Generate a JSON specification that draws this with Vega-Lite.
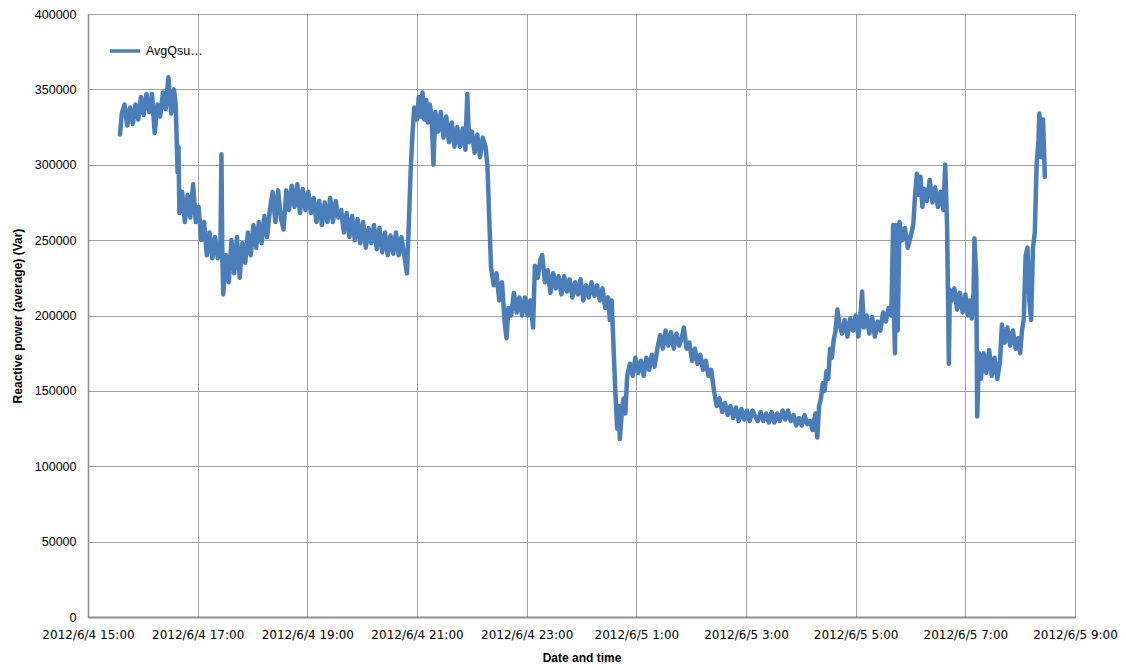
{
  "$schema": "https://vega.github.io/schema/vega-lite/v6.json",
  "width": 987,
  "height": 603,
  "autosize": {"type": "none"},
  "padding": {"left": 88, "top": 14, "right": 51, "bottom": 53},
  "background": "white",
  "config": {
    "view": {"stroke": "#9e9e9e", "strokeWidth": 1},
    "font": "Liberation Sans"
  },
  "data": {
    "values": [
      {"t":"2012-06-04T15:35","v":320000,"s":"AvgQsum"},
      {"t":"2012-06-04T15:37","v":334000,"s":"AvgQsum"},
      {"t":"2012-06-04T15:40","v":340000,"s":"AvgQsum"},
      {"t":"2012-06-04T15:43","v":326000,"s":"AvgQsum"},
      {"t":"2012-06-04T15:46","v":338000,"s":"AvgQsum"},
      {"t":"2012-06-04T15:49","v":327000,"s":"AvgQsum"},
      {"t":"2012-06-04T15:52","v":340000,"s":"AvgQsum"},
      {"t":"2012-06-04T15:55","v":330000,"s":"AvgQsum"},
      {"t":"2012-06-04T15:58","v":345000,"s":"AvgQsum"},
      {"t":"2012-06-04T16:01","v":333000,"s":"AvgQsum"},
      {"t":"2012-06-04T16:04","v":347000,"s":"AvgQsum"},
      {"t":"2012-06-04T16:07","v":335000,"s":"AvgQsum"},
      {"t":"2012-06-04T16:10","v":347000,"s":"AvgQsum"},
      {"t":"2012-06-04T16:13","v":321000,"s":"AvgQsum"},
      {"t":"2012-06-04T16:16","v":340000,"s":"AvgQsum"},
      {"t":"2012-06-04T16:19","v":332000,"s":"AvgQsum"},
      {"t":"2012-06-04T16:22","v":348000,"s":"AvgQsum"},
      {"t":"2012-06-04T16:25","v":337000,"s":"AvgQsum"},
      {"t":"2012-06-04T16:28","v":358000,"s":"AvgQsum"},
      {"t":"2012-06-04T16:31","v":334000,"s":"AvgQsum"},
      {"t":"2012-06-04T16:34","v":350000,"s":"AvgQsum"},
      {"t":"2012-06-04T16:36","v":340000,"s":"AvgQsum"},
      {"t":"2012-06-04T16:38","v":295000,"s":"AvgQsum"},
      {"t":"2012-06-04T16:39","v":312000,"s":"AvgQsum"},
      {"t":"2012-06-04T16:40","v":268000,"s":"AvgQsum"},
      {"t":"2012-06-04T16:43","v":282000,"s":"AvgQsum"},
      {"t":"2012-06-04T16:46","v":262000,"s":"AvgQsum"},
      {"t":"2012-06-04T16:49","v":280000,"s":"AvgQsum"},
      {"t":"2012-06-04T16:52","v":265000,"s":"AvgQsum"},
      {"t":"2012-06-04T16:55","v":287000,"s":"AvgQsum"},
      {"t":"2012-06-04T16:58","v":262000,"s":"AvgQsum"},
      {"t":"2012-06-04T17:01","v":272000,"s":"AvgQsum"},
      {"t":"2012-06-04T17:04","v":250000,"s":"AvgQsum"},
      {"t":"2012-06-04T17:07","v":262000,"s":"AvgQsum"},
      {"t":"2012-06-04T17:10","v":240000,"s":"AvgQsum"},
      {"t":"2012-06-04T17:13","v":255000,"s":"AvgQsum"},
      {"t":"2012-06-04T17:16","v":238000,"s":"AvgQsum"},
      {"t":"2012-06-04T17:19","v":252000,"s":"AvgQsum"},
      {"t":"2012-06-04T17:22","v":238000,"s":"AvgQsum"},
      {"t":"2012-06-04T17:25","v":250000,"s":"AvgQsum"},
      {"t":"2012-06-04T17:26","v":307000,"s":"AvgQsum"},
      {"t":"2012-06-04T17:27","v":240000,"s":"AvgQsum"},
      {"t":"2012-06-04T17:28","v":214000,"s":"AvgQsum"},
      {"t":"2012-06-04T17:31","v":240000,"s":"AvgQsum"},
      {"t":"2012-06-04T17:34","v":222000,"s":"AvgQsum"},
      {"t":"2012-06-04T17:37","v":250000,"s":"AvgQsum"},
      {"t":"2012-06-04T17:40","v":228000,"s":"AvgQsum"},
      {"t":"2012-06-04T17:43","v":252000,"s":"AvgQsum"},
      {"t":"2012-06-04T17:46","v":225000,"s":"AvgQsum"},
      {"t":"2012-06-04T17:49","v":248000,"s":"AvgQsum"},
      {"t":"2012-06-04T17:52","v":235000,"s":"AvgQsum"},
      {"t":"2012-06-04T17:55","v":255000,"s":"AvgQsum"},
      {"t":"2012-06-04T17:58","v":240000,"s":"AvgQsum"},
      {"t":"2012-06-04T18:01","v":260000,"s":"AvgQsum"},
      {"t":"2012-06-04T18:04","v":245000,"s":"AvgQsum"},
      {"t":"2012-06-04T18:07","v":262000,"s":"AvgQsum"},
      {"t":"2012-06-04T18:10","v":248000,"s":"AvgQsum"},
      {"t":"2012-06-04T18:13","v":266000,"s":"AvgQsum"},
      {"t":"2012-06-04T18:16","v":252000,"s":"AvgQsum"},
      {"t":"2012-06-04T18:19","v":270000,"s":"AvgQsum"},
      {"t":"2012-06-04T18:22","v":282000,"s":"AvgQsum"},
      {"t":"2012-06-04T18:25","v":262000,"s":"AvgQsum"},
      {"t":"2012-06-04T18:28","v":283000,"s":"AvgQsum"},
      {"t":"2012-06-04T18:31","v":265000,"s":"AvgQsum"},
      {"t":"2012-06-04T18:34","v":257000,"s":"AvgQsum"},
      {"t":"2012-06-04T18:37","v":283000,"s":"AvgQsum"},
      {"t":"2012-06-04T18:40","v":270000,"s":"AvgQsum"},
      {"t":"2012-06-04T18:43","v":286000,"s":"AvgQsum"},
      {"t":"2012-06-04T18:46","v":272000,"s":"AvgQsum"},
      {"t":"2012-06-04T18:49","v":287000,"s":"AvgQsum"},
      {"t":"2012-06-04T18:52","v":268000,"s":"AvgQsum"},
      {"t":"2012-06-04T18:55","v":284000,"s":"AvgQsum"},
      {"t":"2012-06-04T18:58","v":270000,"s":"AvgQsum"},
      {"t":"2012-06-04T19:01","v":282000,"s":"AvgQsum"},
      {"t":"2012-06-04T19:04","v":268000,"s":"AvgQsum"},
      {"t":"2012-06-04T19:07","v":278000,"s":"AvgQsum"},
      {"t":"2012-06-04T19:10","v":262000,"s":"AvgQsum"},
      {"t":"2012-06-04T19:13","v":276000,"s":"AvgQsum"},
      {"t":"2012-06-04T19:16","v":260000,"s":"AvgQsum"},
      {"t":"2012-06-04T19:19","v":275000,"s":"AvgQsum"},
      {"t":"2012-06-04T19:22","v":262000,"s":"AvgQsum"},
      {"t":"2012-06-04T19:25","v":278000,"s":"AvgQsum"},
      {"t":"2012-06-04T19:28","v":262000,"s":"AvgQsum"},
      {"t":"2012-06-04T19:31","v":276000,"s":"AvgQsum"},
      {"t":"2012-06-04T19:34","v":265000,"s":"AvgQsum"},
      {"t":"2012-06-04T19:37","v":270000,"s":"AvgQsum"},
      {"t":"2012-06-04T19:40","v":255000,"s":"AvgQsum"},
      {"t":"2012-06-04T19:43","v":268000,"s":"AvgQsum"},
      {"t":"2012-06-04T19:46","v":252000,"s":"AvgQsum"},
      {"t":"2012-06-04T19:49","v":266000,"s":"AvgQsum"},
      {"t":"2012-06-04T19:52","v":250000,"s":"AvgQsum"},
      {"t":"2012-06-04T19:55","v":264000,"s":"AvgQsum"},
      {"t":"2012-06-04T19:58","v":248000,"s":"AvgQsum"},
      {"t":"2012-06-04T20:01","v":262000,"s":"AvgQsum"},
      {"t":"2012-06-04T20:04","v":245000,"s":"AvgQsum"},
      {"t":"2012-06-04T20:07","v":258000,"s":"AvgQsum"},
      {"t":"2012-06-04T20:10","v":248000,"s":"AvgQsum"},
      {"t":"2012-06-04T20:13","v":260000,"s":"AvgQsum"},
      {"t":"2012-06-04T20:16","v":244000,"s":"AvgQsum"},
      {"t":"2012-06-04T20:19","v":258000,"s":"AvgQsum"},
      {"t":"2012-06-04T20:22","v":242000,"s":"AvgQsum"},
      {"t":"2012-06-04T20:25","v":255000,"s":"AvgQsum"},
      {"t":"2012-06-04T20:28","v":240000,"s":"AvgQsum"},
      {"t":"2012-06-04T20:31","v":253000,"s":"AvgQsum"},
      {"t":"2012-06-04T20:34","v":241000,"s":"AvgQsum"},
      {"t":"2012-06-04T20:37","v":255000,"s":"AvgQsum"},
      {"t":"2012-06-04T20:40","v":240000,"s":"AvgQsum"},
      {"t":"2012-06-04T20:43","v":252000,"s":"AvgQsum"},
      {"t":"2012-06-04T20:46","v":240000,"s":"AvgQsum"},
      {"t":"2012-06-04T20:49","v":228000,"s":"AvgQsum"},
      {"t":"2012-06-04T20:51","v":260000,"s":"AvgQsum"},
      {"t":"2012-06-04T20:53","v":295000,"s":"AvgQsum"},
      {"t":"2012-06-04T20:55","v":320000,"s":"AvgQsum"},
      {"t":"2012-06-04T20:57","v":338000,"s":"AvgQsum"},
      {"t":"2012-06-04T21:00","v":330000,"s":"AvgQsum"},
      {"t":"2012-06-04T21:02","v":345000,"s":"AvgQsum"},
      {"t":"2012-06-04T21:04","v":332000,"s":"AvgQsum"},
      {"t":"2012-06-04T21:06","v":348000,"s":"AvgQsum"},
      {"t":"2012-06-04T21:08","v":330000,"s":"AvgQsum"},
      {"t":"2012-06-04T21:10","v":343000,"s":"AvgQsum"},
      {"t":"2012-06-04T21:12","v":328000,"s":"AvgQsum"},
      {"t":"2012-06-04T21:14","v":340000,"s":"AvgQsum"},
      {"t":"2012-06-04T21:16","v":332000,"s":"AvgQsum"},
      {"t":"2012-06-04T21:18","v":300000,"s":"AvgQsum"},
      {"t":"2012-06-04T21:20","v":335000,"s":"AvgQsum"},
      {"t":"2012-06-04T21:23","v":322000,"s":"AvgQsum"},
      {"t":"2012-06-04T21:26","v":335000,"s":"AvgQsum"},
      {"t":"2012-06-04T21:29","v":318000,"s":"AvgQsum"},
      {"t":"2012-06-04T21:32","v":332000,"s":"AvgQsum"},
      {"t":"2012-06-04T21:35","v":315000,"s":"AvgQsum"},
      {"t":"2012-06-04T21:38","v":328000,"s":"AvgQsum"},
      {"t":"2012-06-04T21:41","v":312000,"s":"AvgQsum"},
      {"t":"2012-06-04T21:44","v":325000,"s":"AvgQsum"},
      {"t":"2012-06-04T21:47","v":312000,"s":"AvgQsum"},
      {"t":"2012-06-04T21:50","v":324000,"s":"AvgQsum"},
      {"t":"2012-06-04T21:53","v":310000,"s":"AvgQsum"},
      {"t":"2012-06-04T21:55","v":347000,"s":"AvgQsum"},
      {"t":"2012-06-04T21:57","v":315000,"s":"AvgQsum"},
      {"t":"2012-06-04T22:00","v":322000,"s":"AvgQsum"},
      {"t":"2012-06-04T22:03","v":308000,"s":"AvgQsum"},
      {"t":"2012-06-04T22:06","v":320000,"s":"AvgQsum"},
      {"t":"2012-06-04T22:09","v":305000,"s":"AvgQsum"},
      {"t":"2012-06-04T22:12","v":318000,"s":"AvgQsum"},
      {"t":"2012-06-04T22:15","v":312000,"s":"AvgQsum"},
      {"t":"2012-06-04T22:17","v":300000,"s":"AvgQsum"},
      {"t":"2012-06-04T22:19","v":265000,"s":"AvgQsum"},
      {"t":"2012-06-04T22:21","v":232000,"s":"AvgQsum"},
      {"t":"2012-06-04T22:24","v":220000,"s":"AvgQsum"},
      {"t":"2012-06-04T22:27","v":228000,"s":"AvgQsum"},
      {"t":"2012-06-04T22:30","v":210000,"s":"AvgQsum"},
      {"t":"2012-06-04T22:33","v":222000,"s":"AvgQsum"},
      {"t":"2012-06-04T22:36","v":195000,"s":"AvgQsum"},
      {"t":"2012-06-04T22:38","v":185000,"s":"AvgQsum"},
      {"t":"2012-06-04T22:40","v":205000,"s":"AvgQsum"},
      {"t":"2012-06-04T22:43","v":200000,"s":"AvgQsum"},
      {"t":"2012-06-04T22:46","v":215000,"s":"AvgQsum"},
      {"t":"2012-06-04T22:49","v":202000,"s":"AvgQsum"},
      {"t":"2012-06-04T22:52","v":212000,"s":"AvgQsum"},
      {"t":"2012-06-04T22:55","v":200000,"s":"AvgQsum"},
      {"t":"2012-06-04T22:58","v":212000,"s":"AvgQsum"},
      {"t":"2012-06-04T23:01","v":200000,"s":"AvgQsum"},
      {"t":"2012-06-04T23:04","v":210000,"s":"AvgQsum"},
      {"t":"2012-06-04T23:07","v":192000,"s":"AvgQsum"},
      {"t":"2012-06-04T23:09","v":233000,"s":"AvgQsum"},
      {"t":"2012-06-04T23:12","v":225000,"s":"AvgQsum"},
      {"t":"2012-06-04T23:15","v":237000,"s":"AvgQsum"},
      {"t":"2012-06-04T23:17","v":240000,"s":"AvgQsum"},
      {"t":"2012-06-04T23:20","v":222000,"s":"AvgQsum"},
      {"t":"2012-06-04T23:23","v":230000,"s":"AvgQsum"},
      {"t":"2012-06-04T23:26","v":215000,"s":"AvgQsum"},
      {"t":"2012-06-04T23:29","v":228000,"s":"AvgQsum"},
      {"t":"2012-06-04T23:32","v":218000,"s":"AvgQsum"},
      {"t":"2012-06-04T23:35","v":226000,"s":"AvgQsum"},
      {"t":"2012-06-04T23:38","v":214000,"s":"AvgQsum"},
      {"t":"2012-06-04T23:41","v":226000,"s":"AvgQsum"},
      {"t":"2012-06-04T23:44","v":216000,"s":"AvgQsum"},
      {"t":"2012-06-04T23:47","v":224000,"s":"AvgQsum"},
      {"t":"2012-06-04T23:50","v":212000,"s":"AvgQsum"},
      {"t":"2012-06-04T23:53","v":222000,"s":"AvgQsum"},
      {"t":"2012-06-04T23:56","v":214000,"s":"AvgQsum"},
      {"t":"2012-06-04T23:59","v":224000,"s":"AvgQsum"},
      {"t":"2012-06-05T00:02","v":210000,"s":"AvgQsum"},
      {"t":"2012-06-05T00:05","v":220000,"s":"AvgQsum"},
      {"t":"2012-06-05T00:08","v":212000,"s":"AvgQsum"},
      {"t":"2012-06-05T00:11","v":222000,"s":"AvgQsum"},
      {"t":"2012-06-05T00:14","v":213000,"s":"AvgQsum"},
      {"t":"2012-06-05T00:17","v":220000,"s":"AvgQsum"},
      {"t":"2012-06-05T00:20","v":210000,"s":"AvgQsum"},
      {"t":"2012-06-05T00:23","v":218000,"s":"AvgQsum"},
      {"t":"2012-06-05T00:26","v":205000,"s":"AvgQsum"},
      {"t":"2012-06-05T00:29","v":212000,"s":"AvgQsum"},
      {"t":"2012-06-05T00:31","v":197000,"s":"AvgQsum"},
      {"t":"2012-06-05T00:33","v":210000,"s":"AvgQsum"},
      {"t":"2012-06-05T00:35","v":180000,"s":"AvgQsum"},
      {"t":"2012-06-05T00:37","v":150000,"s":"AvgQsum"},
      {"t":"2012-06-05T00:39","v":125000,"s":"AvgQsum"},
      {"t":"2012-06-05T00:41","v":140000,"s":"AvgQsum"},
      {"t":"2012-06-05T00:42","v":118000,"s":"AvgQsum"},
      {"t":"2012-06-05T00:44","v":135000,"s":"AvgQsum"},
      {"t":"2012-06-05T00:46","v":145000,"s":"AvgQsum"},
      {"t":"2012-06-05T00:48","v":135000,"s":"AvgQsum"},
      {"t":"2012-06-05T00:50","v":160000,"s":"AvgQsum"},
      {"t":"2012-06-05T00:53","v":168000,"s":"AvgQsum"},
      {"t":"2012-06-05T00:56","v":160000,"s":"AvgQsum"},
      {"t":"2012-06-05T00:59","v":172000,"s":"AvgQsum"},
      {"t":"2012-06-05T01:02","v":162000,"s":"AvgQsum"},
      {"t":"2012-06-05T01:05","v":170000,"s":"AvgQsum"},
      {"t":"2012-06-05T01:08","v":160000,"s":"AvgQsum"},
      {"t":"2012-06-05T01:11","v":172000,"s":"AvgQsum"},
      {"t":"2012-06-05T01:14","v":164000,"s":"AvgQsum"},
      {"t":"2012-06-05T01:17","v":174000,"s":"AvgQsum"},
      {"t":"2012-06-05T01:20","v":166000,"s":"AvgQsum"},
      {"t":"2012-06-05T01:23","v":178000,"s":"AvgQsum"},
      {"t":"2012-06-05T01:26","v":187000,"s":"AvgQsum"},
      {"t":"2012-06-05T01:29","v":178000,"s":"AvgQsum"},
      {"t":"2012-06-05T01:32","v":190000,"s":"AvgQsum"},
      {"t":"2012-06-05T01:35","v":180000,"s":"AvgQsum"},
      {"t":"2012-06-05T01:38","v":189000,"s":"AvgQsum"},
      {"t":"2012-06-05T01:41","v":178000,"s":"AvgQsum"},
      {"t":"2012-06-05T01:44","v":188000,"s":"AvgQsum"},
      {"t":"2012-06-05T01:47","v":180000,"s":"AvgQsum"},
      {"t":"2012-06-05T01:50","v":186000,"s":"AvgQsum"},
      {"t":"2012-06-05T01:52","v":192000,"s":"AvgQsum"},
      {"t":"2012-06-05T01:55","v":178000,"s":"AvgQsum"},
      {"t":"2012-06-05T01:58","v":182000,"s":"AvgQsum"},
      {"t":"2012-06-05T02:01","v":170000,"s":"AvgQsum"},
      {"t":"2012-06-05T02:04","v":178000,"s":"AvgQsum"},
      {"t":"2012-06-05T02:07","v":168000,"s":"AvgQsum"},
      {"t":"2012-06-05T02:10","v":174000,"s":"AvgQsum"},
      {"t":"2012-06-05T02:13","v":164000,"s":"AvgQsum"},
      {"t":"2012-06-05T02:16","v":170000,"s":"AvgQsum"},
      {"t":"2012-06-05T02:19","v":160000,"s":"AvgQsum"},
      {"t":"2012-06-05T02:22","v":164000,"s":"AvgQsum"},
      {"t":"2012-06-05T02:25","v":150000,"s":"AvgQsum"},
      {"t":"2012-06-05T02:28","v":140000,"s":"AvgQsum"},
      {"t":"2012-06-05T02:31","v":145000,"s":"AvgQsum"},
      {"t":"2012-06-05T02:34","v":136000,"s":"AvgQsum"},
      {"t":"2012-06-05T02:37","v":142000,"s":"AvgQsum"},
      {"t":"2012-06-05T02:40","v":134000,"s":"AvgQsum"},
      {"t":"2012-06-05T02:43","v":140000,"s":"AvgQsum"},
      {"t":"2012-06-05T02:46","v":132000,"s":"AvgQsum"},
      {"t":"2012-06-05T02:49","v":139000,"s":"AvgQsum"},
      {"t":"2012-06-05T02:52","v":130000,"s":"AvgQsum"},
      {"t":"2012-06-05T02:55","v":138000,"s":"AvgQsum"},
      {"t":"2012-06-05T02:58","v":131000,"s":"AvgQsum"},
      {"t":"2012-06-05T03:01","v":137000,"s":"AvgQsum"},
      {"t":"2012-06-05T03:04","v":130000,"s":"AvgQsum"},
      {"t":"2012-06-05T03:07","v":137000,"s":"AvgQsum"},
      {"t":"2012-06-05T03:10","v":133000,"s":"AvgQsum"},
      {"t":"2012-06-05T03:13","v":130000,"s":"AvgQsum"},
      {"t":"2012-06-05T03:16","v":136000,"s":"AvgQsum"},
      {"t":"2012-06-05T03:19","v":130000,"s":"AvgQsum"},
      {"t":"2012-06-05T03:22","v":135000,"s":"AvgQsum"},
      {"t":"2012-06-05T03:25","v":129000,"s":"AvgQsum"},
      {"t":"2012-06-05T03:28","v":136000,"s":"AvgQsum"},
      {"t":"2012-06-05T03:31","v":129000,"s":"AvgQsum"},
      {"t":"2012-06-05T03:34","v":135000,"s":"AvgQsum"},
      {"t":"2012-06-05T03:37","v":130000,"s":"AvgQsum"},
      {"t":"2012-06-05T03:40","v":137000,"s":"AvgQsum"},
      {"t":"2012-06-05T03:43","v":131000,"s":"AvgQsum"},
      {"t":"2012-06-05T03:46","v":137000,"s":"AvgQsum"},
      {"t":"2012-06-05T03:49","v":130000,"s":"AvgQsum"},
      {"t":"2012-06-05T03:52","v":134000,"s":"AvgQsum"},
      {"t":"2012-06-05T03:55","v":127000,"s":"AvgQsum"},
      {"t":"2012-06-05T03:58","v":132000,"s":"AvgQsum"},
      {"t":"2012-06-05T04:01","v":127000,"s":"AvgQsum"},
      {"t":"2012-06-05T04:04","v":134000,"s":"AvgQsum"},
      {"t":"2012-06-05T04:07","v":128000,"s":"AvgQsum"},
      {"t":"2012-06-05T04:10","v":130000,"s":"AvgQsum"},
      {"t":"2012-06-05T04:13","v":124000,"s":"AvgQsum"},
      {"t":"2012-06-05T04:16","v":135000,"s":"AvgQsum"},
      {"t":"2012-06-05T04:18","v":119000,"s":"AvgQsum"},
      {"t":"2012-06-05T04:20","v":140000,"s":"AvgQsum"},
      {"t":"2012-06-05T04:22","v":145000,"s":"AvgQsum"},
      {"t":"2012-06-05T04:24","v":155000,"s":"AvgQsum"},
      {"t":"2012-06-05T04:26","v":150000,"s":"AvgQsum"},
      {"t":"2012-06-05T04:28","v":163000,"s":"AvgQsum"},
      {"t":"2012-06-05T04:30","v":158000,"s":"AvgQsum"},
      {"t":"2012-06-05T04:32","v":178000,"s":"AvgQsum"},
      {"t":"2012-06-05T04:34","v":172000,"s":"AvgQsum"},
      {"t":"2012-06-05T04:36","v":184000,"s":"AvgQsum"},
      {"t":"2012-06-05T04:38","v":190000,"s":"AvgQsum"},
      {"t":"2012-06-05T04:40","v":204000,"s":"AvgQsum"},
      {"t":"2012-06-05T04:42","v":195000,"s":"AvgQsum"},
      {"t":"2012-06-05T04:45","v":188000,"s":"AvgQsum"},
      {"t":"2012-06-05T04:48","v":197000,"s":"AvgQsum"},
      {"t":"2012-06-05T04:51","v":186000,"s":"AvgQsum"},
      {"t":"2012-06-05T04:54","v":198000,"s":"AvgQsum"},
      {"t":"2012-06-05T04:57","v":190000,"s":"AvgQsum"},
      {"t":"2012-06-05T05:00","v":200000,"s":"AvgQsum"},
      {"t":"2012-06-05T05:03","v":186000,"s":"AvgQsum"},
      {"t":"2012-06-05T05:05","v":198000,"s":"AvgQsum"},
      {"t":"2012-06-05T05:07","v":216000,"s":"AvgQsum"},
      {"t":"2012-06-05T05:09","v":192000,"s":"AvgQsum"},
      {"t":"2012-06-05T05:12","v":200000,"s":"AvgQsum"},
      {"t":"2012-06-05T05:15","v":188000,"s":"AvgQsum"},
      {"t":"2012-06-05T05:18","v":199000,"s":"AvgQsum"},
      {"t":"2012-06-05T05:21","v":186000,"s":"AvgQsum"},
      {"t":"2012-06-05T05:24","v":196000,"s":"AvgQsum"},
      {"t":"2012-06-05T05:27","v":190000,"s":"AvgQsum"},
      {"t":"2012-06-05T05:30","v":202000,"s":"AvgQsum"},
      {"t":"2012-06-05T05:33","v":196000,"s":"AvgQsum"},
      {"t":"2012-06-05T05:36","v":205000,"s":"AvgQsum"},
      {"t":"2012-06-05T05:39","v":200000,"s":"AvgQsum"},
      {"t":"2012-06-05T05:41","v":260000,"s":"AvgQsum"},
      {"t":"2012-06-05T05:42","v":200000,"s":"AvgQsum"},
      {"t":"2012-06-05T05:43","v":175000,"s":"AvgQsum"},
      {"t":"2012-06-05T05:44","v":260000,"s":"AvgQsum"},
      {"t":"2012-06-05T05:46","v":190000,"s":"AvgQsum"},
      {"t":"2012-06-05T05:48","v":262000,"s":"AvgQsum"},
      {"t":"2012-06-05T05:51","v":250000,"s":"AvgQsum"},
      {"t":"2012-06-05T05:54","v":258000,"s":"AvgQsum"},
      {"t":"2012-06-05T05:57","v":245000,"s":"AvgQsum"},
      {"t":"2012-06-05T06:00","v":252000,"s":"AvgQsum"},
      {"t":"2012-06-05T06:03","v":260000,"s":"AvgQsum"},
      {"t":"2012-06-05T06:05","v":280000,"s":"AvgQsum"},
      {"t":"2012-06-05T06:07","v":294000,"s":"AvgQsum"},
      {"t":"2012-06-05T06:09","v":280000,"s":"AvgQsum"},
      {"t":"2012-06-05T06:11","v":292000,"s":"AvgQsum"},
      {"t":"2012-06-05T06:13","v":272000,"s":"AvgQsum"},
      {"t":"2012-06-05T06:15","v":284000,"s":"AvgQsum"},
      {"t":"2012-06-05T06:18","v":276000,"s":"AvgQsum"},
      {"t":"2012-06-05T06:21","v":290000,"s":"AvgQsum"},
      {"t":"2012-06-05T06:24","v":275000,"s":"AvgQsum"},
      {"t":"2012-06-05T06:27","v":285000,"s":"AvgQsum"},
      {"t":"2012-06-05T06:30","v":272000,"s":"AvgQsum"},
      {"t":"2012-06-05T06:33","v":282000,"s":"AvgQsum"},
      {"t":"2012-06-05T06:36","v":270000,"s":"AvgQsum"},
      {"t":"2012-06-05T06:38","v":300000,"s":"AvgQsum"},
      {"t":"2012-06-05T06:40","v":260000,"s":"AvgQsum"},
      {"t":"2012-06-05T06:42","v":168000,"s":"AvgQsum"},
      {"t":"2012-06-05T06:43","v":217000,"s":"AvgQsum"},
      {"t":"2012-06-05T06:45","v":210000,"s":"AvgQsum"},
      {"t":"2012-06-05T06:48","v":218000,"s":"AvgQsum"},
      {"t":"2012-06-05T06:51","v":204000,"s":"AvgQsum"},
      {"t":"2012-06-05T06:54","v":215000,"s":"AvgQsum"},
      {"t":"2012-06-05T06:57","v":202000,"s":"AvgQsum"},
      {"t":"2012-06-05T07:00","v":214000,"s":"AvgQsum"},
      {"t":"2012-06-05T07:03","v":200000,"s":"AvgQsum"},
      {"t":"2012-06-05T07:05","v":210000,"s":"AvgQsum"},
      {"t":"2012-06-05T07:07","v":198000,"s":"AvgQsum"},
      {"t":"2012-06-05T07:09","v":215000,"s":"AvgQsum"},
      {"t":"2012-06-05T07:10","v":251000,"s":"AvgQsum"},
      {"t":"2012-06-05T07:12","v":225000,"s":"AvgQsum"},
      {"t":"2012-06-05T07:13","v":133000,"s":"AvgQsum"},
      {"t":"2012-06-05T07:15","v":175000,"s":"AvgQsum"},
      {"t":"2012-06-05T07:17","v":158000,"s":"AvgQsum"},
      {"t":"2012-06-05T07:20","v":175000,"s":"AvgQsum"},
      {"t":"2012-06-05T07:23","v":162000,"s":"AvgQsum"},
      {"t":"2012-06-05T07:26","v":177000,"s":"AvgQsum"},
      {"t":"2012-06-05T07:29","v":160000,"s":"AvgQsum"},
      {"t":"2012-06-05T07:32","v":172000,"s":"AvgQsum"},
      {"t":"2012-06-05T07:35","v":158000,"s":"AvgQsum"},
      {"t":"2012-06-05T07:38","v":170000,"s":"AvgQsum"},
      {"t":"2012-06-05T07:40","v":194000,"s":"AvgQsum"},
      {"t":"2012-06-05T07:43","v":182000,"s":"AvgQsum"},
      {"t":"2012-06-05T07:46","v":192000,"s":"AvgQsum"},
      {"t":"2012-06-05T07:49","v":180000,"s":"AvgQsum"},
      {"t":"2012-06-05T07:52","v":190000,"s":"AvgQsum"},
      {"t":"2012-06-05T07:55","v":178000,"s":"AvgQsum"},
      {"t":"2012-06-05T07:58","v":185000,"s":"AvgQsum"},
      {"t":"2012-06-05T08:00","v":175000,"s":"AvgQsum"},
      {"t":"2012-06-05T08:02","v":190000,"s":"AvgQsum"},
      {"t":"2012-06-05T08:04","v":198000,"s":"AvgQsum"},
      {"t":"2012-06-05T08:06","v":240000,"s":"AvgQsum"},
      {"t":"2012-06-05T08:08","v":245000,"s":"AvgQsum"},
      {"t":"2012-06-05T08:10","v":210000,"s":"AvgQsum"},
      {"t":"2012-06-05T08:12","v":197000,"s":"AvgQsum"},
      {"t":"2012-06-05T08:14","v":245000,"s":"AvgQsum"},
      {"t":"2012-06-05T08:16","v":255000,"s":"AvgQsum"},
      {"t":"2012-06-05T08:18","v":300000,"s":"AvgQsum"},
      {"t":"2012-06-05T08:20","v":316000,"s":"AvgQsum"},
      {"t":"2012-06-05T08:21","v":334000,"s":"AvgQsum"},
      {"t":"2012-06-05T08:23","v":305000,"s":"AvgQsum"},
      {"t":"2012-06-05T08:25","v":330000,"s":"AvgQsum"},
      {"t":"2012-06-05T08:27","v":292000,"s":"AvgQsum"}
    ]
  },
  "mark": {"type": "line", "strokeWidth": 4.5, "strokeJoin": "round", "strokeCap": "round", "clip": true},
  "encoding": {
    "x": {
      "field": "t",
      "type": "temporal",
      "scale": {
        "domain": [
          {"year": 2012, "month": 6, "date": 4, "hours": 15},
          {"year": 2012, "month": 6, "date": 5, "hours": 9}
        ],
        "nice": false
      },
      "axis": {
        "title": "Date and time",
        "titleFont": "Liberation Sans",
        "titleFontSize": 12,
        "titleFontWeight": "bold",
        "titleColor": "#000000",
        "titlePadding": 12,
        "values": [
          {"year": 2012, "month": 6, "date": 4, "hours": 15},
          {"year": 2012, "month": 6, "date": 4, "hours": 17},
          {"year": 2012, "month": 6, "date": 4, "hours": 19},
          {"year": 2012, "month": 6, "date": 4, "hours": 21},
          {"year": 2012, "month": 6, "date": 4, "hours": 23},
          {"year": 2012, "month": 6, "date": 5, "hours": 1},
          {"year": 2012, "month": 6, "date": 5, "hours": 3},
          {"year": 2012, "month": 6, "date": 5, "hours": 5},
          {"year": 2012, "month": 6, "date": 5, "hours": 7},
          {"year": 2012, "month": 6, "date": 5, "hours": 9}
        ],
        "labelExpr": "timeFormat(datum.value, '%Y/%-m/%-d %-H:%M')",
        "labelFont": "DejaVu Sans",
        "labelFontSize": 12,
        "labelColor": "#000000",
        "labelPadding": 12,
        "labelOverlap": false,
        "labelFlush": false,
        "ticks": false,
        "grid": true,
        "gridColor": "#a0a0a0",
        "gridWidth": 1,
        "domainColor": "#8c8c8c",
        "domainWidth": 2
      }
    },
    "y": {
      "field": "v",
      "type": "quantitative",
      "scale": {"domain": [0, 400000], "nice": false},
      "axis": {
        "title": "Reactive power (average) (Var)",
        "titleFont": "Liberation Sans",
        "titleFontSize": 12,
        "titleFontWeight": "bold",
        "titleColor": "#000000",
        "titlePadding": 10,
        "values": [0, 50000, 100000, 150000, 200000, 250000, 300000, 350000, 400000],
        "format": "d",
        "labelFont": "Liberation Sans",
        "labelFontSize": 12.5,
        "labelColor": "#000000",
        "labelPadding": 12,
        "ticks": false,
        "grid": true,
        "gridColor": "#a0a0a0",
        "gridWidth": 1,
        "domainColor": "#8c8c8c",
        "domainWidth": 1.5
      }
    },
    "color": {
      "field": "s",
      "type": "nominal",
      "scale": {"range": ["#4a7ebb"]},
      "legend": {
        "title": null,
        "orient": "none",
        "legendX": 20,
        "legendY": 20,
        "symbolType": "stroke",
        "symbolSize": 900,
        "symbolStrokeWidth": 3.5,
        "labelExpr": "'AvgQsu…'",
        "labelFont": "Liberation Sans",
        "labelFontSize": 12.5,
        "labelColor": "#000000",
        "labelOffset": 4
      }
    }
  }
}
